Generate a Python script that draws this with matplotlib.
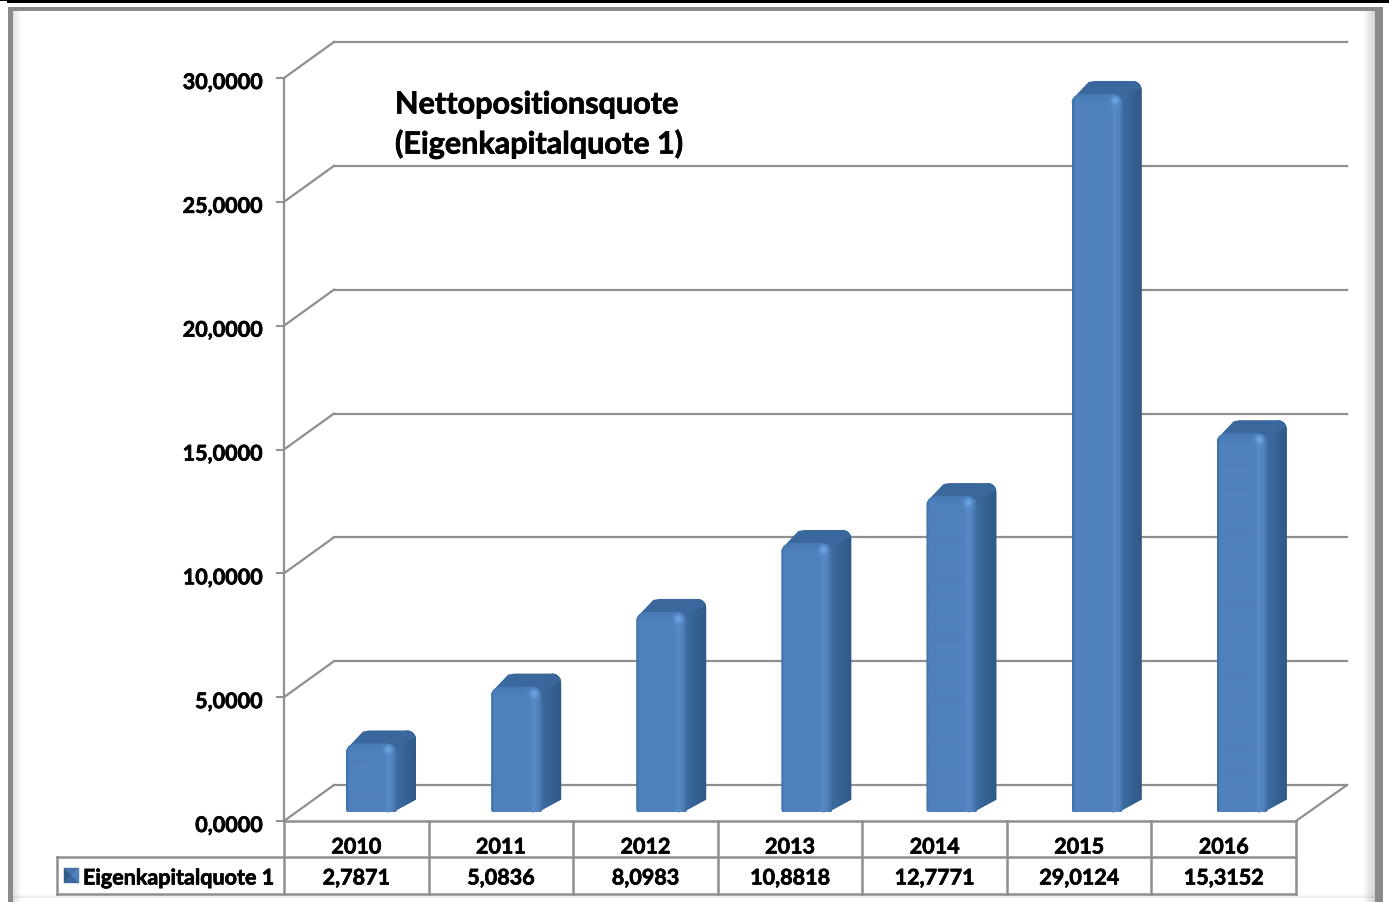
import matplotlib
matplotlib.use('Agg')
import matplotlib.pyplot as plt
import matplotlib.patheffects as pe
import numpy as np
from matplotlib.patches import Polygon, Rectangle
from matplotlib.colors import to_rgb

# Data
years = ['2010', '2011', '2012', '2013', '2014', '2015', '2016']
values = [2.7871, 5.0836, 8.0983, 10.8818, 12.7771, 29.0124, 15.3152]
value_labels = ['2,7871', '5,0836', '8,0983', '10,8818', '12,7771', '29,0124', '15,3152']
y_ticks = [0, 5, 10, 15, 20, 25, 30]
y_tick_labels = ['0,0000', '5,0000', '10,0000', '15,0000', '20,0000', '25,0000', '30,0000']
series_name = 'Eigenkapitalquote 1'
title_lines = ['Nettopositionsquote', '(Eigenkapitalquote 1)']

W, H = 1389, 903
FONT = 'Lato'
GRID = '#8f8f8f'
BOLDER = [pe.withStroke(linewidth=0.5, foreground='black')]

fig = plt.figure(figsize=(W / 100, H / 100), dpi=100, facecolor='white')

# background axes in pixels, for the picture frame
bg = fig.add_axes([0, 0, 1, 1], zorder=0)
bg.set_xlim(0, W)
bg.set_ylim(H, 0)
bg.axis('off')
bg.add_patch(Rectangle((0, 0), W, 2, color='black', lw=0))
bg.add_patch(Rectangle((7, 0), W - 7, 4, color='black', lw=0))
bg.add_patch(Rectangle((8, 8), 1375, 3.5, color='#8a8a8a', lw=0))
bg.add_patch(Rectangle((8, 8), 4.5, H, color='#8a8a8a', lw=0))
bg.add_patch(Rectangle((1375, 8), 8, H, color='#8a8a8a', lw=0))
for k in range(8):
    a = 0.16 * (1 - k / 8)
    bg.add_patch(Rectangle((1375 - k * 1.5 - 1.5, 11.5), 1.5, H, color='black', alpha=a, lw=0))
    bg.add_patch(Rectangle((12.5 + k, 11.5), 1, H, color='black', alpha=a * 0.7, lw=0))
    bg.add_patch(Rectangle((12.5, 899 - k * 0.5), 1362, 0.5, color='black', alpha=a * 0.5, lw=0))

# plot axes: front plane of the 3D box
ax = fig.add_axes([284 / W, 1 - 822 / H, 1012 / W, 743 / H], zorder=1)
ax.set_xlim(0, len(years))
ax.set_ylim(0, 30)
ax.axis('off')

PX = len(years) / 1012
PY = 30 / 743
DEPTH_X = 50 * PX
DEPTH_Y = 36 * PY


def line(xs, ys, lw=1.6, color=GRID, z=1):
    ax.plot(xs, ys, color=color, lw=lw, clip_on=False, zorder=z, solid_capstyle='projecting')


def label(x, y, s, ha='center', size=15.5):
    ax.text(x, y, s, ha=ha, va='center', family=FONT, weight='bold', fontsize=size,
            color='black', clip_on=False, zorder=6, path_effects=BOLDER)


# walls and gridlines
n = len(years)
for t, lab in zip(y_ticks, y_tick_labels):
    line([-7 * PX, 0], [t, t], lw=1.4)
    label(-22 * PX, t - 4.5 * PY, lab, ha='right')
    line([0, DEPTH_X], [t, t + DEPTH_Y])
    line([DEPTH_X, n + 51 * PX], [t + DEPTH_Y, t + DEPTH_Y])
line([0, 0], [0, 30])
line([n, n + 51 * PX], [0, DEPTH_Y])


def arc(cx, cy, rx, ry, start, stop, count=8):
    # points on an elliptical corner, radii given in pixels
    ang = np.radians(np.linspace(start, stop, count))
    return [(cx + np.cos(a) * rx * PX, cy + np.sin(a) * ry * PY) for a in ang]


def rounded(x0, x1, y0, y1, rt, rb):
    # rounded box in data coordinates
    pts = arc(x0 + rt * PX, y1 - rt * PY, rt, rt, 180, 90)
    pts += arc(x1 - rt * PX, y1 - rt * PY, rt, rt, 90, 0)
    pts += arc(x1 - rb * PX, y0 + rb * PY, rb, rb, 0, -90)
    pts += arc(x0 + rb * PX, y0 + rb * PY, rb, rb, -90, -180)
    return pts


def front_image(w, h):
    # horizontal and top bevel shading of the front face
    body = np.array(to_rgb('#4f81bd'))
    left = np.array(to_rgb('#3f70aa'))
    bevel = np.array(to_rgb('#5a90d0'))
    edge = np.array(to_rgb('#3f6fa6'))
    u = np.linspace(0, 1, w)
    img = np.zeros((h, w, 3))
    stops = [0, 0.06, 0.76, 0.82, 0.92, 1]
    cols = [left, body, body, bevel * 0.96, bevel * 0.9, edge]
    for c in range(3):
        img[:, :, c] = np.interp(u, stops, [col[c] for col in cols])
    top_band = min(10, h)
    for r in range(top_band):
        mix = 1 - r / top_band
        img[r, :, :] = img[r, :, :] * (1 - 0.6 * mix) + np.array(to_rgb('#3f72ae')) * 0.6 * mix
    # small highlight at the top right of the face
    yy, xx = np.mgrid[0:h, 0:w]
    d = np.exp(-(((xx - 0.82 * w) / 4.0) ** 2 + ((yy - 7) / 4.0) ** 2))[..., None]
    img = img * (1 - d) + np.array(to_rgb('#6ea6e6')) * d
    return np.clip(img, 0, 1)


# bars
for i, v in enumerate(values):
    x0 = i + (62 + 0.55 * i) * PX
    x1 = x0 + 51 * PX
    y0 = 8.5 * PY
    y1 = y0 + v
    sx = 19 * PX
    sy = 13 * PY
    # side and top, behind the front face
    side = [(x1 - 10 * PX, y0), (x1 - 3 * PX, y0 + 1 * PY), (x1 + sx, y0 + sy)]
    side += arc(x1 + sx - 9 * PX, y1 + sy - 9 * PY, 9, 9, 0, 90)
    side += [(x1 - 10 * PX, y1)]
    ax.add_patch(Polygon(side, closed=True, facecolor='#34608f', edgecolor='none', zorder=3, clip_on=False))
    # side face shading
    grad = np.linspace(0, 1, 24)[None, :, None]
    side_img = (1 - grad) * np.array(to_rgb('#3f6fa6')) + grad * np.array(to_rgb('#2f5a88'))
    im = ax.imshow(side_img, extent=(x1 - 6 * PX, x1 + sx, y0, y1 + sy), aspect='auto', zorder=3.1,
                   interpolation='bilinear')
    clip = Polygon(side, closed=True, transform=ax.transData, facecolor='none', edgecolor='none')
    ax.add_patch(clip)
    im.set_clip_path(clip)
    # top face
    top = arc(x0 + 9 * PX, y1 - 9 * PY, 9, 9, 180, 120, 5)
    top += [(x0 + 17 * PX, y1 + sy - 1 * PY), (x0 + 23 * PX, y1 + sy)]
    top += arc(x1 + sx - 9 * PX, y1 + sy - 9 * PY, 9, 9, 90, 15, 6)
    top += [(x1 - 3 * PX, y1 - 5 * PY)]
    ax.add_patch(Polygon(top, closed=True, facecolor='#3a689d', edgecolor='none', zorder=3.2, clip_on=False))
    # front face with shading, clipped to a rounded box
    h_px = int(round(v / PY))
    im = ax.imshow(front_image(51, h_px), extent=(x0, x1, y0, y1), aspect='auto', zorder=4,
                   interpolation='bilinear')
    clip = Polygon(rounded(x0, x1, y0, y1, 10, 3), closed=True, transform=ax.transData,
                   facecolor='none', edgecolor='none')
    ax.add_patch(clip)
    im.set_clip_path(clip)

ax.set_xlim(0, n)
ax.set_ylim(0, 30)

# floor and data table
ROW1 = -36 * PY
ROW2 = -73 * PY
LEFT = -227 * PX
line([0, n], [0, 0], lw=1.8)
line([LEFT, n], [ROW1, ROW1], lw=1.8)
line([LEFT, n], [ROW2, ROW2], lw=1.8)
line([LEFT, LEFT], [ROW1, ROW2], lw=1.8)
for k in range(n + 1):
    line([k, k], [0, ROW2], lw=1.8)
for k, (yr, lab) in enumerate(zip(years, value_labels)):
    label(k + 0.5, -26 * PY, yr)
    label(k + 0.5, -57 * PY, lab)
label(-201 * PX, -57 * PY, series_name, ha='left')

# legend key with pyramid shading
kx0, kx1 = -220 * PX, -205 * PX
ky0, ky1 = -62 * PY, -47 * PY
kc = ((kx0 + kx1) / 2, (ky0 + ky1) / 2)
faces = [([(kx0, ky0), (kx0, ky1), kc], '#2f5a88'), ([(kx0, ky1), (kx1, ky1), kc], '#4472a8'),
         ([(kx1, ky1), (kx1, ky0), kc], '#4f81bd'), ([(kx1, ky0), (kx0, ky0), kc], '#3a689d')]
for pts, col in faces:
    ax.add_patch(Polygon(pts, closed=True, facecolor=col, edgecolor=col, lw=0.3, clip_on=False, zorder=5))

# title inside the plot
label(111 * PX, 30 - 26.5 * PY, title_lines[0], ha='left', size=22)
label(111 * PX, 30 - 66 * PY, title_lines[1], ha='left', size=22)

fig.savefig('out.png', dpi=100)
